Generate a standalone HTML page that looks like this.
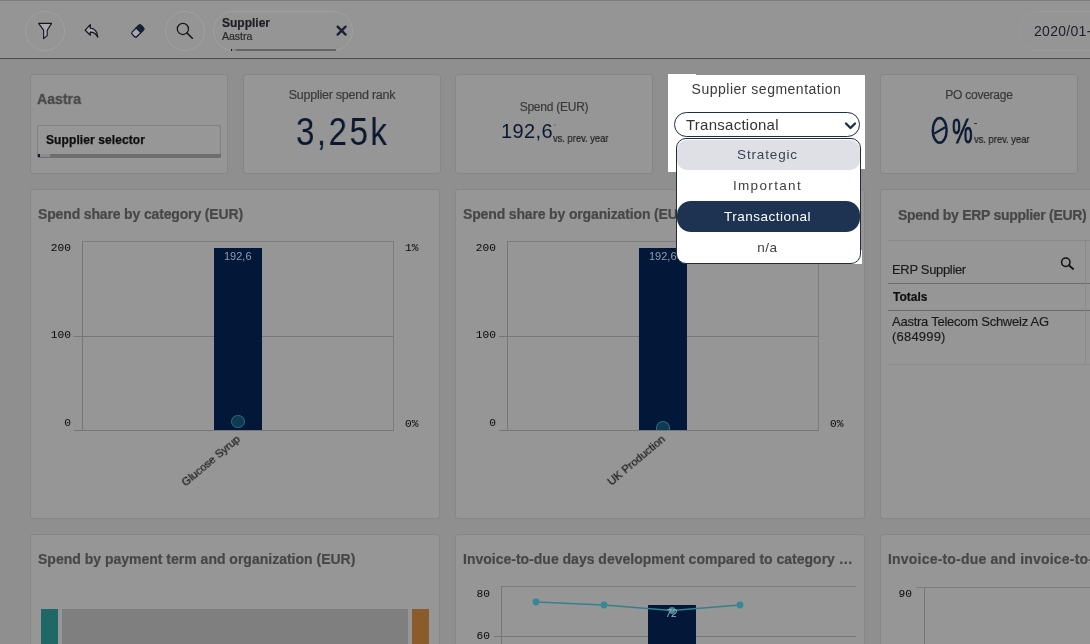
<!DOCTYPE html>
<html><head><meta charset="utf-8">
<style>
*{box-sizing:border-box;margin:0;padding:0}
html,body{width:1090px;height:644px;overflow:hidden;background:#8f8f8f;font-family:"Liberation Sans",sans-serif;position:relative}
.a{position:absolute}
.tb{left:0;top:0;width:1090px;height:58px;background:#959595;border-top:1px solid #7d7d7d}
.tbl{left:0;top:58px;width:1090px;height:1px;background:#4c4c4c}
.card{position:absolute;background:#969696;border:1px solid #868686;border-radius:3px}
.t{position:absolute;white-space:nowrap;line-height:1;will-change:transform;-webkit-text-stroke-width:0.2px}
.title{font-weight:bold;font-size:14px;color:#474747;-webkit-text-stroke:0.2px #474747}
.mono{font-family:"Liberation Mono",monospace;font-size:11.2px;color:#101010;-webkit-text-stroke:0.05px #101010}
.mr{width:40px;text-align:right}
.circ{position:absolute;border:1px solid #a1a1a1;border-radius:50%}
.hl{position:absolute;height:1px;background:#767676}
.vl{position:absolute;width:1px;background:#767676}
.kt{font-size:12px;color:#3a3a3a;letter-spacing:-0.25px}
.kv{color:#0b172e;-webkit-text-stroke-width:0}
.xl{width:100px;height:12px;text-align:right;font-size:11px;color:#151515;-webkit-text-stroke:0.2px #151515;transform:rotate(-40deg);transform-origin:100% 50%}
.dd{-webkit-text-stroke-width:0 !important;font-size:13.5px;color:#404040;letter-spacing:0.5px;width:185px;text-align:center;left:675px}
</style></head><body>
<!-- toolbar -->
<div class="a tb"></div>
<div class="a tbl"></div>
<div class="circ" style="left:25px;top:11px;width:40px;height:40px"></div>
<div class="circ" style="left:165px;top:11px;width:40px;height:40px"></div>
<svg class="a" style="left:0;top:0" width="210" height="58" viewBox="0 0 210 58">
  <!-- filter -->
  <path d="M38.6,23.4 L51.6,23.4 L47.2,30.2 L47.2,35.6 L43.6,38.6 L43.6,30.2 Z" fill="#aaaab2" stroke="#15151a" stroke-width="1.1" stroke-linejoin="round"/>
  <!-- undo -->
  <path d="M90.3,24.6 L85.2,30.2 L90.3,35.2 L90.3,32.2 C93.6,32.2 96.2,34 97.8,37.2 C97.6,31.6 94.4,28.2 90.3,28.2 Z" fill="#a6a6ae" stroke="#15151a" stroke-width="1.2" stroke-linejoin="round"/>
  <!-- eraser -->
  <g transform="translate(137.8,31) rotate(-45)">
    <rect x="-6.3" y="-3.3" width="12.6" height="6.6" rx="1.8" fill="#a8a8b0" stroke="#15151a" stroke-width="1.2"/>
    <path d="M0.3,-3.9 L4.5,-3.9 A2.4,2.4 0 0 1 6.9,-1.5 L6.9,1.5 A2.4,2.4 0 0 1 4.5,3.9 L0.3,3.9 Z" fill="#152234"/>
  </g>
  <!-- search -->
  <circle cx="182.9" cy="28.9" r="5.6" fill="none" stroke="#15151a" stroke-width="1.25"/>
  <line x1="186.9" y1="32.9" x2="192.3" y2="38.3" stroke="#15151a" stroke-width="1.5" stroke-linecap="round"/>
</svg>
<!-- selection pill -->
<div class="a" style="left:213px;top:11px;width:140px;height:40px;border:1px solid #a1a1a1;border-radius:20px"></div>
<div class="a" style="left:236px;top:49px;width:100px;height:2px;background:#646464"></div>
<div class="a" style="left:232px;top:49px;width:4px;height:2px;background:#878787"></div>
<div class="a" style="left:230.8px;top:49px;width:1.6px;height:2px;background:#1a1a1a"></div>
<div class="t" style="left:222px;top:16.6px;font-weight:bold;font-size:12px;color:#1d1d24">Supplier</div>
<div class="t" style="left:222px;top:30.8px;font-size:10.5px;color:#2a2a2a">Aastra</div>
<svg class="a" style="left:335px;top:24px" width="14" height="14" viewBox="0 0 14 14"><path d="M2.6,2.6 L10.6,10.6 M10.6,2.6 L2.6,10.6" stroke="#1b1f33" stroke-width="2.3" stroke-linecap="round"/></svg>
<!-- date pill -->
<div class="a" style="left:1019px;top:11px;width:120px;height:40px;border:1px solid #9b9b9b;border-radius:20px"></div>
<div class="t" style="left:1034px;top:24px;font-size:14px;color:#20202c;letter-spacing:0.3px;-webkit-text-stroke-width:0">2020/01-</div>

<!-- row 1 cards -->
<div class="card" style="left:30px;top:74px;width:198px;height:100px"></div>
<div class="t" style="left:37px;top:90.7px;font-weight:bold;font-size:15.5px;color:#484848;-webkit-text-stroke:0.3px #484848;transform:scaleX(0.91);transform-origin:0 0">Aastra</div>
<div class="a" style="left:37px;top:125px;width:184px;height:33px;border:1px solid #808080;border-bottom:none;border-radius:3px;background:#979797"></div>
<div class="a" style="left:37px;top:154px;width:184px;height:4px;background:#6d6d6d;border-radius:0 0 2px 2px"></div>
<div class="a" style="left:40px;top:154px;width:9.5px;height:3px;background:#8c8c8c"></div>
<div class="a" style="left:38px;top:154px;width:2px;height:3px;background:#141a2a"></div>
<div class="t" style="left:45.8px;top:133.8px;font-weight:bold;font-size:12px;color:#0e0e0e;letter-spacing:0.1px;-webkit-text-stroke:0.25px #0e0e0e">Supplier selector</div>

<div class="card" style="left:243px;top:74px;width:198px;height:100px"></div>
<div class="t kt" style="left:244px;width:196px;text-align:center;top:88.9px;font-size:12.5px">Supplier spend rank</div>
<div class="t kv" style="left:296px;top:112.2px;font-size:39px;letter-spacing:2.9px;transform:scaleX(0.85);transform-origin:0 0">3,25k</div>

<div class="card" style="left:455px;top:74px;width:198px;height:100px"></div>
<div class="t kt" style="left:456px;width:196px;text-align:center;top:101.2px">Spend (EUR)</div>
<div class="t kv" style="left:501px;top:121px;font-size:20px;letter-spacing:0.4px">192,6</div>
<div class="a" style="left:554px;top:123.5px;width:2px;height:2px;border-radius:1px;background:#777"></div>
<div class="t" style="left:553px;top:133.3px;font-size:11px;color:#1e1e1e;-webkit-text-stroke:0.2px #1e1e1e;transform:scaleX(0.85);transform-origin:0 0">vs. prev. year</div>

<div class="card" style="left:880px;top:74px;width:198px;height:100px"></div>
<div class="t kt" style="left:881px;width:196px;text-align:center;top:89.1px">PO coverage</div>
<svg class="a" style="left:925px;top:110px" width="30" height="40" viewBox="925 110 30 40"><ellipse cx="939.7" cy="130.4" rx="6.9" ry="12.3" fill="none" stroke="#0e1d38" stroke-width="2.5"/><line x1="934.2" y1="133.6" x2="945.2" y2="127.2" stroke="#0e1d38" stroke-width="2.2"/></svg>
<div class="t kv" style="left:952px;top:113.2px;font-size:35px;transform:scaleX(0.66);transform-origin:0 0;-webkit-text-stroke:0.9px #0e1d38">%</div>
<div class="a" style="left:974px;top:123px;width:3px;height:1px;background:#333"></div>
<div class="t" style="left:973.5px;top:134.3px;font-size:11px;color:#1e1e1e;-webkit-text-stroke:0.2px #1e1e1e;transform:scaleX(0.85);transform-origin:0 0">vs. prev. year</div>

<!-- row 2 cards -->
<div class="card" style="left:30px;top:189px;width:410px;height:330px"></div>
<div class="t title" style="left:37.6px;top:207.2px;letter-spacing:-0.15px">Spend share by category (EUR)</div>
<div class="hl" style="left:82px;top:241px;width:312px;background:#7c7c7c"></div>
<div class="hl" style="left:74px;top:336px;width:320px"></div>
<div class="hl" style="left:74px;top:430px;width:320px"></div>
<div class="vl" style="left:82px;top:241px;height:190px"></div>
<div class="vl" style="left:393px;top:241px;height:190px;background:#7c7c7c"></div>
<div class="t mono mr" style="left:31.0px;top:243.4px">200</div>
<div class="t mono mr" style="left:31.1px;top:330.4px">100</div>
<div class="t mono mr" style="left:31.1px;top:418.4px">0</div>
<div class="t mono" style="left:405.0px;top:243.2px">1%</div>
<div class="t mono" style="left:405.0px;top:418.9px">0%</div>
<div class="a" style="left:214px;top:248px;width:48px;height:182px;background:#031838"></div>
<div class="t" style="left:224px;top:250.7px;font-size:11px;color:#939cac;-webkit-text-stroke-width:0">192,6</div>
<div class="a" style="left:231.2px;top:414.8px;width:13.4px;height:13.4px;border-radius:50%;background:#0e3a54;border:1.6px solid #2e6b84"></div>
<div class="t xl" style="left:138.5px;top:432px">Glucose Syrup</div>

<div class="card" style="left:455px;top:189px;width:410px;height:330px"></div>
<div class="t title" style="left:462.6px;top:207.2px;letter-spacing:-0.15px">Spend share by organization (EUR)</div>
<div class="hl" style="left:507px;top:241px;width:312px;background:#7c7c7c"></div>
<div class="hl" style="left:499px;top:336px;width:320px"></div>
<div class="hl" style="left:499px;top:430px;width:320px"></div>
<div class="vl" style="left:507px;top:241px;height:190px"></div>
<div class="vl" style="left:818px;top:241px;height:190px;background:#7c7c7c"></div>
<div class="t mono mr" style="left:456.0px;top:243.4px">200</div>
<div class="t mono mr" style="left:456.1px;top:330.4px">100</div>
<div class="t mono mr" style="left:456.1px;top:418.4px">0</div>
<div class="t mono" style="left:829.7px;top:418.9px">0%</div>
<div class="a" style="left:639px;top:248px;width:48px;height:182px;background:#031838"></div>
<div class="t" style="left:649px;top:250.7px;font-size:11px;color:#939cac;-webkit-text-stroke-width:0">192,6</div>
<div class="a" style="left:656.2px;top:420.5px;width:13.4px;height:9px;border-radius:7px 7px 0 0;background:#0e3a54;border:1.6px solid #2e6b84;border-bottom:none"></div>
<div class="t xl" style="left:563.5px;top:432px">UK Production</div>

<div class="card" style="left:880px;top:189px;width:410px;height:330px"></div>
<div class="t title" style="left:898px;top:207.6px;letter-spacing:-0.3px">Spend by ERP supplier (EUR)</div>
<div class="hl" style="left:888px;top:240px;width:202px;background:#8a8a8a"></div>
<div class="hl" style="left:888px;top:283px;width:202px;background:#6a6a6a"></div>
<div class="hl" style="left:888px;top:310px;width:202px;background:#6a6a6a"></div>
<div class="hl" style="left:888px;top:364px;width:202px;background:#8a8a8a"></div>
<div class="vl" style="left:1085px;top:240px;height:125px;background:#8a8a8a"></div>
<div class="t" style="left:891.8px;top:263.1px;font-size:13px;color:#1a1a1a;letter-spacing:-0.33px;-webkit-text-stroke:0.15px #1a1a1a">ERP Supplier</div>
<svg class="a" style="left:1058px;top:255px" width="20" height="18" viewBox="0 0 20 18"><circle cx="7.8" cy="7.3" r="4.2" fill="none" stroke="#111" stroke-width="1.5"/><line x1="10.8" y1="10.3" x2="15.2" y2="14" stroke="#111" stroke-width="1.8" stroke-linecap="round"/></svg>
<div class="t" style="left:892.6px;top:290.8px;font-size:12px;font-weight:bold;color:#111">Totals</div>
<div class="t" style="left:891.8px;top:315.2px;font-size:13px;color:#1a1a1a;letter-spacing:-0.25px;-webkit-text-stroke:0.15px #1a1a1a">Aastra Telecom Schweiz AG</div>
<div class="t" style="left:891.8px;top:330.1px;font-size:13px;color:#1a1a1a;letter-spacing:0.2px;-webkit-text-stroke:0.15px #1a1a1a">(684999)</div>

<!-- row 3 cards -->
<div class="card" style="left:30px;top:534px;width:410px;height:200px"></div>
<div class="t title" style="left:37.5px;top:551.8px">Spend by payment term and organization (EUR)</div>
<div class="a" style="left:41px;top:609px;width:17px;height:40px;background:#1f6867"></div>
<div class="a" style="left:62px;top:609px;width:346px;height:40px;background:#7f7f7f"></div>
<div class="a" style="left:412px;top:609px;width:17px;height:40px;background:#8a5c2b"></div>

<div class="card" style="left:455px;top:534px;width:410px;height:200px"></div>
<div class="t title" style="left:462.5px;top:551.8px">Invoice-to-due days development compared to category …</div>
<div class="hl" style="left:501px;top:586px;width:355px;background:#7c7c7c"></div>
<div class="hl" style="left:494px;top:636px;width:362px"></div>
<div class="vl" style="left:501px;top:586px;height:60px"></div>
<div class="t mono mr" style="left:450.0px;top:588.7px">80</div>
<div class="t mono mr" style="left:450.0px;top:630.5px">60</div>
<div class="a" style="left:648px;top:605px;width:48px;height:40px;background:#031838"></div>
<svg class="a" style="left:456px;top:590px" width="400" height="40" viewBox="456 590 400 40">
  <polyline points="536,602 604,605 672,610.5 740,605" fill="none" stroke="#35808c" stroke-width="1.3"/>
  <circle cx="536" cy="602" r="3.4" fill="#368894"/><circle cx="604" cy="605" r="3.4" fill="#368894"/><circle cx="672" cy="610.5" r="3.4" fill="#368894"/><circle cx="740" cy="605" r="3.4" fill="#368894"/>
</svg>
<div class="t" style="left:666px;top:609px;font-size:10px;color:#a8adb6;font-style:italic;-webkit-text-stroke-width:0">72</div>

<div class="card" style="left:880px;top:534px;width:410px;height:200px"></div>
<div class="t title" style="left:887.6px;top:551.8px;letter-spacing:0.2px">Invoice-to-due and invoice-to-pay days</div>
<div class="hl" style="left:916px;top:587px;width:174px;background:#7c7c7c"></div>
<div class="vl" style="left:924px;top:587px;height:60px"></div>
<div class="t mono mr" style="left:872.2px;top:589.2px">90</div>

<!-- popup -->
<div class="a" style="left:668px;top:75px;width:197px;height:94px;background:#fff"></div>
<div class="a" style="left:668px;top:74px;width:28px;height:1px;background:#fff"></div>
<div class="a" style="left:668px;top:160px;width:8px;height:12px;background:#fff"></div>
<div class="t" style="left:668px;width:197px;text-align:center;top:82.3px;font-size:14px;color:#3a3a3a;letter-spacing:0.5px;-webkit-text-stroke-width:0">Supplier segmentation</div>
<div class="a" style="left:674px;top:112px;width:186px;height:25px;border:1px solid #1f2d45;border-radius:13px;background:#fff"></div>
<div class="t" style="left:685.8px;top:117.2px;font-size:15px;color:#333;letter-spacing:0.25px;-webkit-text-stroke-width:0">Transactional</div>
<svg class="a" style="left:842.5px;top:120px" width="16" height="12" viewBox="0 0 16 12"><path d="M3,3.5 L7.5,8 L12,3.5" fill="none" stroke="#1b2a48" stroke-width="2.3" stroke-linecap="round" stroke-linejoin="round"/></svg>
<div class="a" style="left:848px;top:250px;width:14px;height:13.5px;background:#fff"></div>
<div class="a" style="left:675.5px;top:138px;width:185px;height:126px;border:1px solid #222c3a;border-radius:10px;background:#fff"></div>
<div class="a" style="left:677px;top:139.5px;width:182.5px;height:30.5px;border-radius:10px;background:#dfe0e6"></div>
<div class="a" style="left:676.5px;top:201px;width:183px;height:31px;border-radius:14px;background:#1e3352"></div>
<div class="t dd" style="top:148.2px;color:#3b4252;letter-spacing:0.85px">Strategic</div>
<div class="t dd" style="top:179.2px;letter-spacing:1.35px">Important</div>
<div class="t dd" style="top:210.3px;color:#fff">Transactional</div>
<div class="t dd" style="top:240.9px">n/a</div>
</body></html>
